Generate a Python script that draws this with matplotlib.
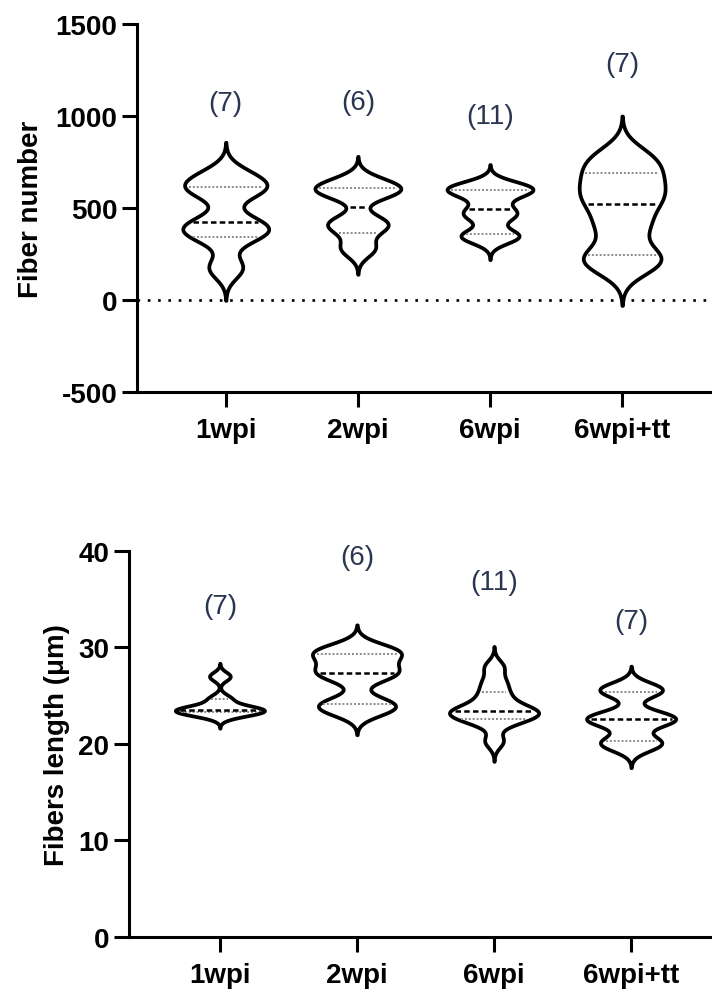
import numpy as np
import matplotlib
matplotlib.use("Agg")
import matplotlib.pyplot as plt

plt.rcParams['font.family'] = ['Liberation Sans', 'DejaVu Sans']
plt.rcParams['axes.unicode_minus'] = False

groups = ['1wpi', '2wpi', '6wpi', '6wpi+tt']

# fiber number per animal (estimated from the violins)
fiber_number = [
    [175, 344, 385, 425, 590, 616, 680],
    [280, 390, 430, 580, 600, 640],
    [330, 350, 359, 445, 470, 495, 560, 590, 600, 615, 625],
    [190, 246, 400, 522, 600, 690, 780],
]
# fiber length in um
fiber_length = [
    [23.0, 23.3, 23.5, 23.55, 23.8, 24.7, 27.0],
    [23.5, 24.3, 27.0, 27.8, 29.2, 29.8],
    [20.3, 22.2, 22.6, 23.0, 23.3, 23.45, 23.7, 24.5, 25.4, 26.5, 28.0],
    [19.8, 20.35, 22.2, 22.6, 23.0, 25.4, 25.8],
]
n_labels = ['(7)', '(6)', '(11)', '(7)']
number_label_y = [1070, 1075, 1000, 1283]
length_label_y = [34.3, 39.4, 36.8, 32.7]

BW = 0.33
CUT = 3.0
WIDTH = 0.65


def kde_stats(data):
    d = np.asarray(data, float)
    bw = BW * d.std(ddof=1)
    coords = np.linspace(d.min() - CUT * bw, d.max() + CUT * bw, 400)
    vals = np.exp(-0.5 * ((coords[:, None] - d[None, :]) / bw) ** 2).sum(axis=1)
    return dict(coords=coords, vals=vals, mean=d.mean(), median=np.median(d),
                min=coords[0], max=coords[-1])


def draw_violins(ax, datasets):
    pos = np.arange(len(datasets))
    stats = [kde_stats(d) for d in datasets]
    parts = ax.violin(stats, positions=pos, widths=WIDTH, showmeans=False,
                      showextrema=False, showmedians=False)
    for b in parts['bodies']:
        b.set_facecolor('white')
        b.set_edgecolor('black')
        b.set_linewidth(2.7)
        b.set_alpha(1)
        b.set_zorder(3)
    for p, d, s in zip(pos, datasets, stats):
        q1, med, q3 = np.percentile(d, [25, 50, 75], method='weibull')
        for q, style in [(q1, 'q'), (q3, 'q'), (med, 'm')]:
            hw = np.interp(q, s['coords'], s['vals']) / s['vals'].max() * WIDTH / 2
            hw -= 0.03
            if style == 'm':
                ax.hlines(q, p - hw, p + hw, colors='black', lw=1.8,
                          linestyles=(0, (2.2, 1.3)), zorder=4)
            else:
                ax.hlines(q, p - hw, p + hw, colors='#8a8a8a', lw=1.4,
                          linestyles=(0, (1, 1)), zorder=4)


def style_axes(ax):
    for s in ['top', 'right']:
        ax.spines[s].set_visible(False)
    for s in ['left', 'bottom']:
        ax.spines[s].set_linewidth(2.2)
    ax.tick_params(width=2.2, length=11, labelsize=20)
    ax.tick_params(axis='y', pad=3)
    ax.tick_params(axis='x', pad=7)
    for lab in ax.get_xticklabels() + ax.get_yticklabels():
        lab.set_fontweight('bold')


fig = plt.figure(figsize=(7.12, 9.95), dpi=100)

ax1 = fig.add_axes([0.192, 0.605, 0.808, 0.370])
ax1.axhline(0, color='black', lw=1.9, linestyle=(0, (1, 2.9)), zorder=2)
draw_violins(ax1, fiber_number)
ax1.set_ylim(-500, 1500)
ax1.set_yticks([-500, 0, 500, 1000, 1500])
ax1.set_xlim(-0.674, 3.68)
ax1.set_xticks(range(len(groups)))
ax1.set_xticklabels(groups)
ax1.set_ylabel('Fiber number', fontsize=20, fontweight='bold', labelpad=8)
for i, t in enumerate(n_labels):
    ax1.text(i, number_label_y[i], t, ha='center', va='center', fontsize=20,
             color='#2a3550')
style_axes(ax1)

ax2 = fig.add_axes([0.181, 0.0573, 0.819, 0.388])
draw_violins(ax2, fiber_length)
ax2.set_ylim(0, 40)
ax2.set_yticks([0, 10, 20, 30, 40])
ax2.set_xlim(-0.664, 3.59)
ax2.set_xticks(range(len(groups)))
ax2.set_xticklabels(groups)
ax2.set_ylabel('Fibers length (μm)', fontsize=20, fontweight='bold', labelpad=6)
for i, t in enumerate(n_labels):
    ax2.text(i, length_label_y[i], t, ha='center', va='center', fontsize=20,
             color='#2a3550')
style_axes(ax2)

fig.savefig('out.png', dpi=100)
